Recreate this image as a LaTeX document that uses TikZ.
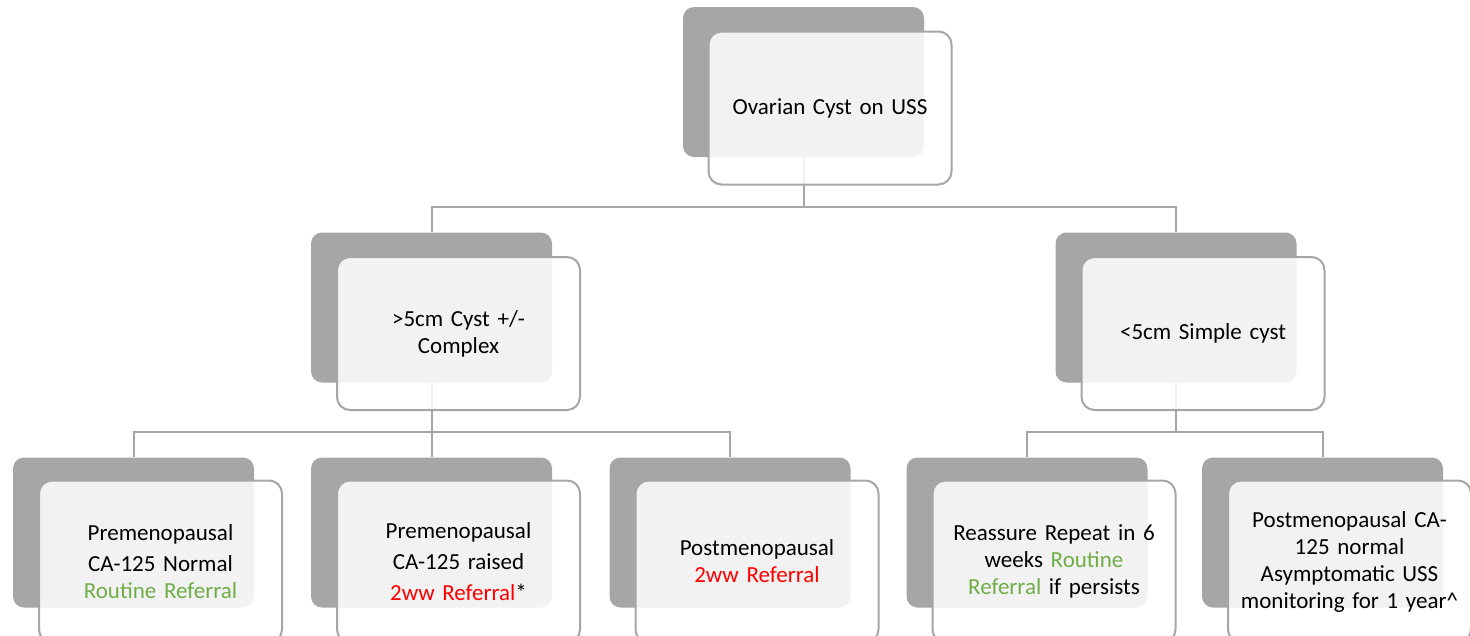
\documentclass[tikz,border=0pt]{standalone}
\usepackage{fontspec}
\setmainfont{Carlito}
\usepackage{tikz}
\usetikzlibrary{calc}
\definecolor{shadegray}{HTML}{A6A6A6}
\definecolor{okgreen}{HTML}{70AD47}
\definecolor{urgentred}{HTML}{FF0000}
\tikzset{
	backbox/.style={draw=none, fill=shadegray, rounded corners=11pt, minimum width=241pt, minimum height=150pt, inner sep=0pt},
	frontbox/.style={draw=shadegray, line width=2pt, fill=white, fill opacity=0.86, text opacity=1, rounded corners=13pt, minimum width=243pt, minimum height=153pt, inner sep=0pt, align=center, text width=235pt, font=\fontsize{23}{27}\selectfont},
	lowbox/.style={frontbox, minimum height=162pt},
	link/.style={draw=shadegray, line width=2pt}
}

\begin{document}
\begin{tikzpicture}[x=1pt, y=-1pt]
			%%%%% START %%%%%
			\useasboundingbox (0, 0) rectangle (1470, 635);
			\clip (0, 0) rectangle (1470, 635);
			
			% shaded back boxes
			\node[backbox] (cyst-b) at (803.5, 82) {};
			\node[backbox] (big-b) at (431.5, 307.5) {};
			\node[backbox] (small-b) at (1176, 307.5) {};
			\node[backbox] (prenorm-b) at (133.5, 532.5) {};
			\node[backbox] (preraised-b) at (431.5, 532.5) {};
			\node[backbox] (post-b) at (730, 532.5) {};
			\node[backbox] (reassure-b) at (1027, 532.5) {};
			\node[backbox] (postnorm-b) at (1322.5, 532.5) {};
			
			% tree lines
			\draw[link] (cyst-b.south) |- ([yshift=25pt]big-b.north) -- (big-b.north);
			\draw[link] (cyst-b.south) |- ([yshift=25pt]small-b.north) -- (small-b.north);
			\draw[link] (big-b.south) |- ([yshift=25pt]prenorm-b.north) -- (prenorm-b.north);
			\draw[link] (big-b.south) -- (preraised-b.north);
			\draw[link] (big-b.south) |- ([yshift=25pt]post-b.north) -- (post-b.north);
			\draw[link] (small-b.south) |- ([yshift=25pt]reassure-b.north) -- (reassure-b.north);
			\draw[link] (small-b.south) |- ([yshift=25pt]postnorm-b.north) -- (postnorm-b.north);
			
			% front boxes with text
			\node[frontbox] (cyst) at ([shift={(26.5, 26)}]cyst-b.center) {Ovarian Cyst on USS};
			\node[frontbox] (big) at ([shift={(27, 26)}]big-b.center) {>5cm Cyst +/-\\Complex};
			\node[frontbox] (small) at ([shift={(27, 26)}]small-b.center) {<5cm Simple cyst};
			\node[lowbox] (prenorm) at ([shift={(27, 29)}]prenorm-b.center) {Premenopausal\\[4pt]CA-125 Normal\\\textcolor{okgreen}{Routine Referral}};
			\node[lowbox] (preraised) at ([shift={(27, 29)}]preraised-b.center) {Premenopausal\\[4pt]CA-125 raised\\[4pt]\textcolor{urgentred}{2ww Referral}*};
			\node[lowbox] (post) at ([shift={(27, 29)}]post-b.center) {Postmenopausal\\\textcolor{urgentred}{2ww Referral}};
			\node[lowbox] (reassure) at ([shift={(27, 29)}]reassure-b.center) {Reassure Repeat in 6\\weeks \textcolor{okgreen}{Routine}\\\textcolor{okgreen}{Referral} if persists};
			\node[lowbox] (postnorm) at ([shift={(27, 29)}]postnorm-b.center) {Postmenopausal CA-\\125 normal\\Asymptomatic USS\\monitoring for 1 year\^{}};
			
			%%%%% END %%%%%
\end{tikzpicture}
\end{document}
